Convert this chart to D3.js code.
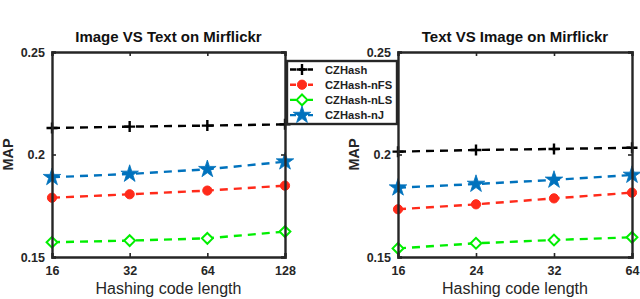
<html>
<head>
<script src="https://cdn.jsdelivr.net/npm/d3@7"></script>
<style>
  body { margin: 0; background: #fff; }
  text { font-family: "Liberation Sans", Arial, sans-serif; }
</style>
</head>
<body>
<div id="container"></div>
<script>
// data
const seriesNames = ["CZHash", "CZHash-nFS", "CZHash-nLS", "CZHash-nJ"];
const leftCodes = ["16", "32", "64", "128"];
const leftCZHash = [0.2129, 0.2136, 0.2141, 0.2147];
const leftNFS = [0.1789, 0.1806, 0.1824, 0.1848];
const leftNLS = [0.1572, 0.1580, 0.1591, 0.1624];
const leftNJ = [0.1889, 0.1905, 0.1928, 0.1965];
const rightCodes = ["16", "24", "32", "64"];
const rightCZHash = [0.2014, 0.2022, 0.2027, 0.2033];
const rightNFS = [0.1733, 0.1757, 0.1786, 0.1814];
const rightNLS = [0.1542, 0.1567, 0.1583, 0.1596];
const rightNJ = [0.1838, 0.1856, 0.1876, 0.1900];
const yTicks = [0.15, 0.2, 0.25];
const yTickLabels = ["0.15", "0.2", "0.25"];

const W = 640, H = 299;
const colors = ["#000000", "#ff2a1a", "#00ee00", "#0072bd"];
const symbols = ["plus", "circle", "diamond", "star"];

const svg = d3.select("#container").append("svg")
  .attr("width", W).attr("height", H);

function drawMarker(g, kind, color) {
  if (kind === "plus") {
    g.append("path").attr("d", "M-5.5,0H5.5M0,-5.5V5.5")
      .attr("stroke", color).attr("stroke-width", 2.4).attr("fill", "none");
  } else if (kind === "circle") {
    g.append("circle").attr("r", 4.6).attr("fill", color).attr("stroke", color);
  } else if (kind === "diamond") {
    g.append("path").attr("d", "M0,-5.4L5.4,0L0,5.4L-5.4,0Z")
      .attr("fill", "#fff").attr("stroke", color).attr("stroke-width", 2);
  } else {
    g.append("path").attr("d", d3.symbol(d3.symbolStar, 95)())
      .attr("fill", color).attr("stroke", color).attr("stroke-width", 0.8);
  }
}

function drawPanel(x0, x1, title, codes, data) {
  const top = 52, bottom = 257;
  const x = d3.scalePoint().domain(codes).range([x0, x1]).padding(0);
  const y = d3.scaleLinear().domain([0.15, 0.25]).range([bottom, top]);
  const g = svg.append("g");

  // series
  data.forEach((vals, si) => {
    const pts = codes.map((c, i) => [x(c), y(vals[i])]);
    g.append("path")
      .attr("d", d3.line()(pts))
      .attr("fill", "none")
      .attr("stroke", colors[si])
      .attr("stroke-width", 2.4)
      .attr("stroke-dasharray", "8,6");
    pts.forEach(p => {
      const m = g.append("g").attr("transform", `translate(${p[0]},${p[1]})`);
      drawMarker(m, symbols[si], colors[si]);
    });
  });

  // axes
  const fmt = d => yTickLabels[yTicks.indexOf(d)];
  const axB = g.append("g").attr("transform", `translate(0,${bottom})`)
    .call(d3.axisBottom(x).tickSize(-4).tickPadding(9));
  const axT = g.append("g").attr("transform", `translate(0,${top})`)
    .call(d3.axisTop(x).tickSize(-4).tickFormat(""));
  const axL = g.append("g").attr("transform", `translate(${x0},0)`)
    .call(d3.axisLeft(y).tickValues(yTicks).tickSize(-4).tickPadding(7).tickFormat(fmt));
  const axR = g.append("g").attr("transform", `translate(${x1},0)`)
    .call(d3.axisRight(y).tickValues(yTicks).tickSize(-4).tickFormat(""));
  [axB, axT, axL, axR].forEach(a => {
    a.select(".domain").attr("stroke", "#262626").attr("stroke-width", 2.4);
    a.selectAll(".tick line").attr("stroke", "#262626").attr("stroke-width", 1.6);
    a.selectAll("text").attr("font-size", 12.5).attr("font-weight", "bold")
      .attr("fill", "#262626").attr("font-family", "Liberation Sans, Arial, sans-serif");
  });
  axL.selectAll("text").attr("dy", "0.35em");

  g.append("text").attr("x", (x0 + x1) / 2).attr("y", 42)
    .attr("text-anchor", "middle").attr("font-size", 15).attr("font-weight", "bold")
    .attr("fill", "#111").text(title);
  g.append("text").attr("x", (x0 + x1) / 2).attr("y", 294)
    .attr("text-anchor", "middle").attr("font-size", 16)
    .attr("fill", "#262626").text("Hashing code length");
  g.append("text").attr("transform", `translate(${x0 - 39},${(top + bottom) / 2}) rotate(-90)`)
    .attr("text-anchor", "middle").attr("font-size", 14.5).attr("font-weight", "bold")
    .attr("fill", "#262626").text("MAP");
}

drawPanel(52, 285, "Image VS Text on Mirflickr", leftCodes,
  [leftCZHash, leftNFS, leftNLS, leftNJ]);
drawPanel(398, 632, "Text VS Image on Mirflickr", rightCodes,
  [rightCZHash, rightNFS, rightNLS, rightNJ]);

// legend
const lg = svg.append("g");
lg.append("rect").attr("x", 287).attr("y", 61).attr("width", 110).attr("height", 63)
  .attr("fill", "#fff").attr("stroke", "#262626").attr("stroke-width", 2.4);
seriesNames.forEach((name, i) => {
  const ly = 69.5 + i * 15.2;
  lg.append("line").attr("x1", 290).attr("x2", 313).attr("y1", ly).attr("y2", ly)
    .attr("stroke", colors[i]).attr("stroke-width", 2.4).attr("stroke-dasharray", "6,3");
  const m = lg.append("g").attr("transform", `translate(302,${ly})`);
  drawMarker(m, symbols[i], colors[i]);
  lg.append("text").attr("x", 325).attr("y", ly + 4).attr("font-size", 11.2)
    .attr("font-weight", "bold").attr("fill", "#222").text(name);
});
</script>
</body>
</html>
